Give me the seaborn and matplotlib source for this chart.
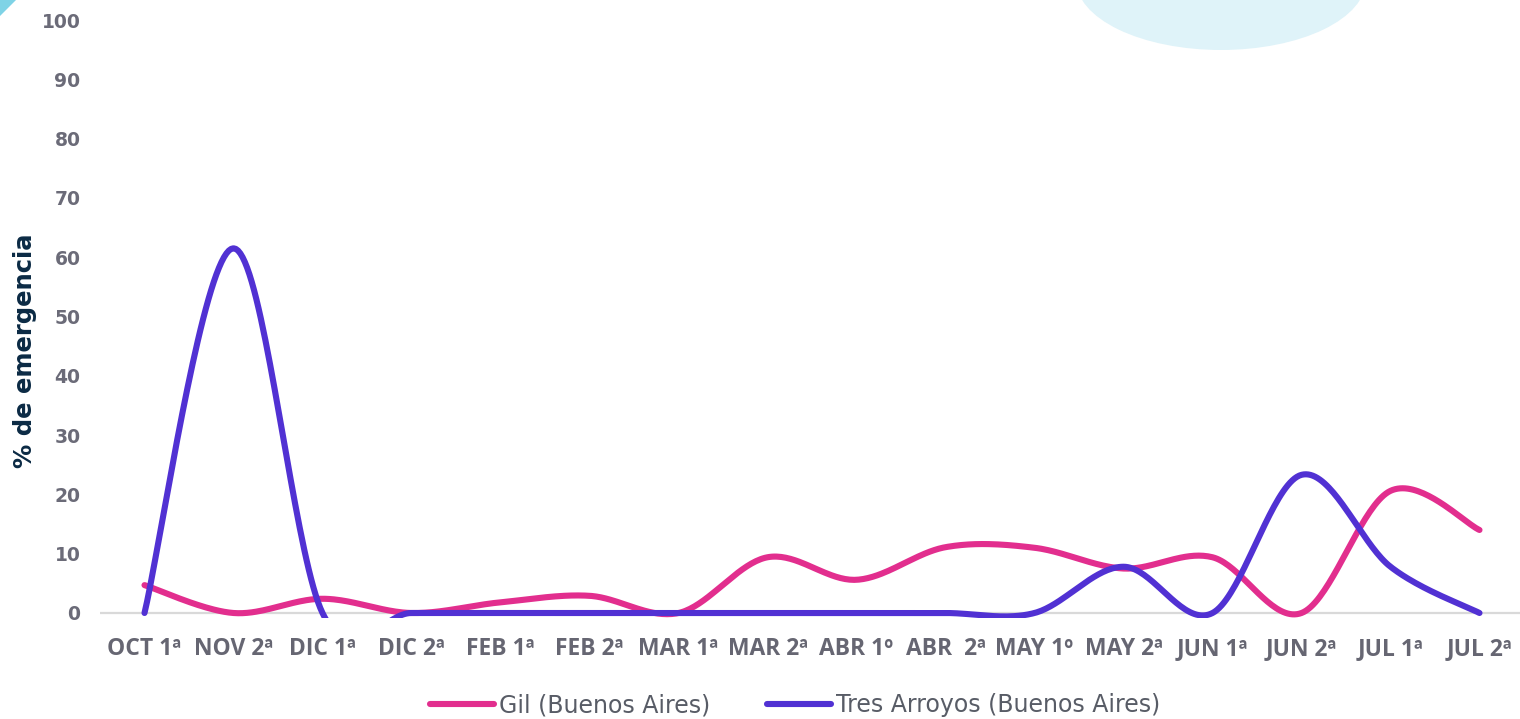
import numpy as np
import pandas as pd
import matplotlib
matplotlib.use("Agg")
import matplotlib.pyplot as plt
from matplotlib.patches import Ellipse, Polygon
from matplotlib.lines import Line2D
import seaborn as sns

# datos
periodos = ["OCT 1ª", "NOV 2ª", "DIC 1ª", "DIC 2ª", "FEB 1ª", "FEB 2ª", "MAR 1ª", "MAR 2ª",
            "ABR 1º", "ABR  2ª", "MAY 1º", "MAY 2ª", "JUN 1ª", "JUN 2ª", "JUL 1ª", "JUL 2ª"]
gil = [4.7, 0, 2.4, 0, 1.8, 2.9, 0, 9.4, 5.6, 11.1, 11.0, 7.5, 9.4, 0, 20.6, 14.0]
tres_arroyos = [0, 61.5, 0, 0, 0, 0, 0, 0, 0, 0, 0, 7.8, 0, 23.3, 7.8, 0]
series = {"Gil (Buenos Aires)": gil, "Tres Arroyos (Buenos Aires)": tres_arroyos}
colores = {"Gil (Buenos Aires)": "#e22e8e", "Tres Arroyos (Buenos Aires)": "#5131d3"}
y_ticks = list(range(0, 101, 10))


def suavizar(valores, n=40):
    # curva suavizada tipo Excel (Bezier con tangentes Catmull-Rom)
    pts = np.column_stack([np.arange(len(valores)), np.array(valores, dtype=float)])
    out = []
    t = np.linspace(0, 1, n)[:, None]
    for i in range(len(pts) - 1):
        p0 = pts[i - 1] if i > 0 else pts[i]
        p1, p2 = pts[i], pts[i + 1]
        p3 = pts[i + 2] if i + 2 < len(pts) else pts[i + 1]
        c1 = p1 + (p2 - p0) / 6
        c2 = p2 - (p3 - p1) / 6
        seg = ((1 - t) ** 3) * p1 + 3 * ((1 - t) ** 2) * t * c1 + 3 * (1 - t) * t ** 2 * c2 + t ** 3 * p2
        out.append(seg if i == 0 else seg[1:])
    return np.vstack(out)


frames = []
for nombre, vals in series.items():
    xy = suavizar(vals)
    frames.append(pd.DataFrame({"x": xy[:, 0], "y": xy[:, 1], "serie": nombre}))
df = pd.concat(frames, ignore_index=True)

sns.set_theme(style="white")
plt.rcParams["font.family"] = ["Open Sans", "DejaVu Sans"]

W, H = 1520, 719
fig = plt.figure(figsize=(W / 100, H / 100), dpi=100)

# decoracion de fondo
deco = fig.add_axes([0, 0, 1, 1], zorder=-1)
deco.set_xlim(0, W)
deco.set_ylim(H, 0)
deco.axis("off")
deco.add_patch(Ellipse((1221, -20), 290, 140, color="#dff3f9", lw=0))
deco.add_patch(Polygon([(0, 0), (16, 0), (0, 16)], closed=True, color="#7fd3e6", lw=0))

# ejes principales
y0_px, y100_px = 613, 20
ymin = -0.8
px_unit = (y0_px - y100_px) / 100
bottom_px = y0_px - ymin * px_unit
left_px, right_px = 100, 100 + 16 * 89
ax = fig.add_axes([left_px / W, (H - bottom_px) / H, (right_px - left_px) / W, (bottom_px - y100_px) / H])
ax.set_facecolor("none")

sns.lineplot(data=df, x="x", y="y", hue="serie", palette=colores, sort=False,
             estimator=None, linewidth=4.4, legend=False, ax=ax, zorder=3)
for l in ax.lines:
    l.set_solid_capstyle("round")

ax.axhline(0, color="#d9d9d9", lw=1.6, zorder=1)
ax.set_xlim(-0.5, 15.5)
ax.set_ylim(ymin, 100)
ax.set_xticks(range(len(periodos)))
ax.set_xticklabels(periodos, fontsize=16.5, fontweight="bold", color="#666672")
ax.set_yticks(y_ticks)
ax.set_yticklabels([str(v) for v in y_ticks], fontsize=13.5, fontweight="bold",
                   color="#6b6b78", family="DejaVu Sans")
ax.tick_params(axis="x", length=0, pad=14)
ax.tick_params(axis="y", length=0, pad=14)
ax.set_xlabel("")
ax.set_ylabel("% de emergencia", fontsize=17.5, fontweight="bold", color="#0b2a44",
              family="DejaVu Sans")
ax.yaxis.set_label_coords((37 - left_px) / (right_px - left_px), (bottom_px - 351) / (bottom_px - y100_px))
for s in ax.spines.values():
    s.set_visible(False)

handles = [Line2D([0], [0], color=c, lw=4.4, solid_capstyle="round") for c in colores.values()]
fig.legend(handles, list(colores.keys()), loc="center", bbox_to_anchor=(795 / W, (H - 705) / H),
           ncol=2, frameon=False, handlelength=2.7, handletextpad=0.22,
           columnspacing=2.4, labelcolor="#585c66",
           prop={"family": "DejaVu Sans", "size": 17})

fig.savefig("out.png", dpi=100)
